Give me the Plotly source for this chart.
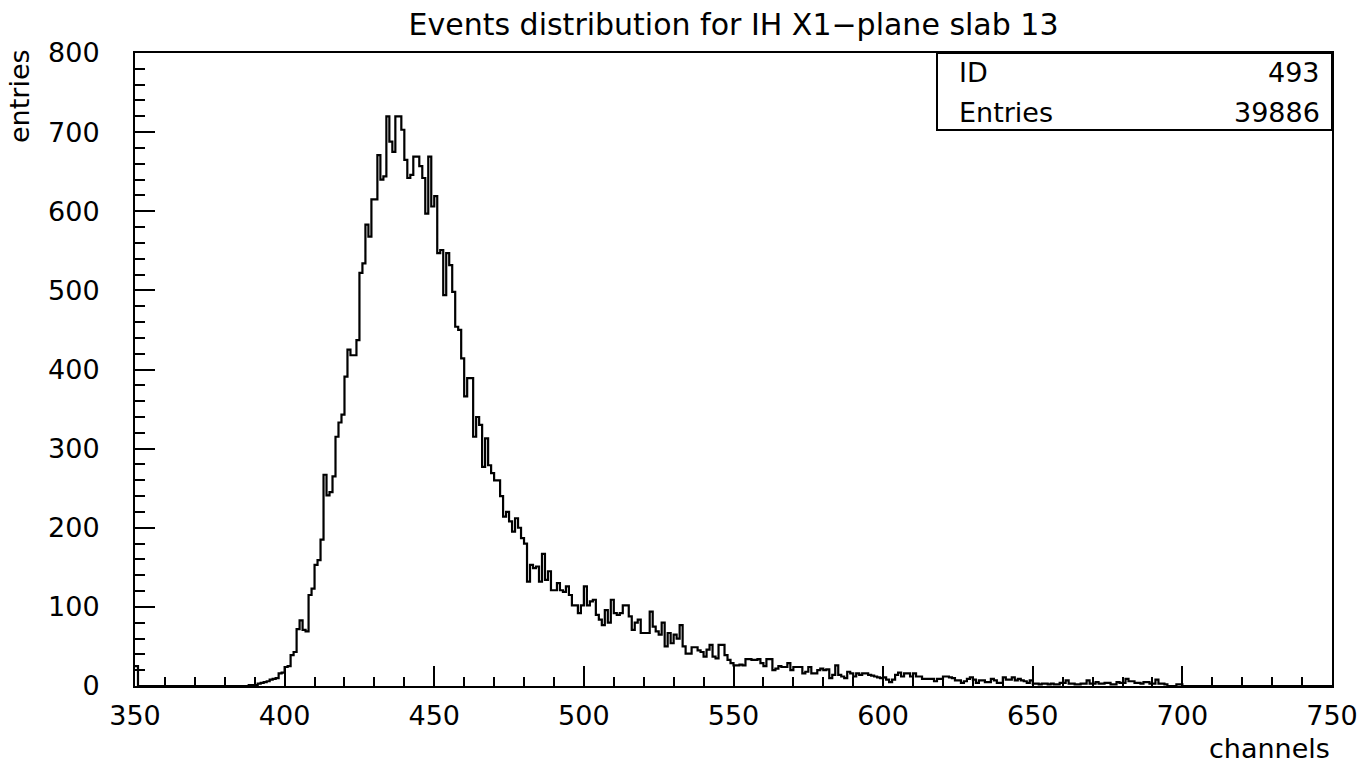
import numpy as np
import plotly.graph_objects as go

# ---- data ----
bin_low = 350          # first bin lower edge (channels)
bin_high = 750         # last bin upper edge
first_bin_count = 25   # bin 350 (pile-up at left edge)
start_channel = 388    # first non-empty bin of the main distribution
counts_main = [
    # 388-399
    1, 1, 1, 3, 4, 5, 6, 8, 9, 10, 16, 17,
    # 400-409
    24, 25, 39, 43, 72, 83, 71, 69, 115, 123,
    # 410-419
    153, 159, 185, 267, 241, 245, 265, 315, 333, 343,
    # 420-429
    391, 425, 418, 418, 437, 522, 534, 583, 568, 615,
    # 430-439
    615, 671, 640, 644, 720, 688, 675, 720, 720, 703,
    # 440-449
    665, 642, 646, 669, 669, 657, 642, 597, 669, 606,
    # 450-459
    619, 547, 551, 494, 547, 532, 498, 454, 450, 414,
    # 460-469
    366, 389, 389, 315, 340, 330, 277, 313, 279, 269,
    # 470-479
    260, 260, 240, 214, 220, 208, 195, 212, 200, 187,
    # 480-489
    180, 132, 153, 149, 151, 132, 167, 134, 145, 121,
    # 490-499
    121, 130, 121, 119, 126, 115, 102, 102, 92, 102,
    # 500-509
    126, 102, 107, 109, 90, 84, 77, 96, 80, 109,
    # 510-519
    92, 90, 92, 102, 102, 88, 71, 80, 84, 67,
    # 520-529
    67, 67, 94, 75, 69, 65, 80, 50, 67, 54,
    # 530-539
    65, 60, 77, 50, 41, 41, 49, 49, 45, 43,
    # 540-549
    37, 46, 52, 37, 35, 52, 52, 39, 33, 29,
    # 550-559
    26, 26, 27, 26, 34, 34, 33, 33, 34, 29,
    # 560-569
    25, 34, 34, 20, 22, 25, 24, 24, 29, 20,
    # 570-579
    24, 24, 24, 16, 18, 24, 16, 16, 20, 22,
    # 580-589
    20, 21, 10, 14, 26, 14, 12, 10, 18, 16,
    # 590-599
    12, 16, 14, 16, 16, 14, 13, 12, 11, 10,
    # 600-609
    11, 8, 5, 8, 14, 17, 12, 16, 16, 12,
    # 610-619
    16, 12, 12, 9, 9, 9, 9, 6, 9, 9,
    # 620-629
    12, 12, 11, 10, 7, 7, 4, 6, 9, 11,
    # 630-639
    8, 4, 7, 7, 5, 5, 9, 7, 4, 4,
    # 640-649
    11, 8, 8, 11, 7, 9, 7, 6, 4, 7,
    # 650-659
    3, 3, 2, 3, 3, 2, 3, 2, 2, 4,
    # 660-669
    4, 7, 3, 3, 2, 2, 3, 3, 7, 3,
    # 670-679
    3, 5, 3, 3, 4, 4, 2, 2, 5, 4,
    # 680-689
    4, 9, 6, 6, 4, 4, 3, 5, 5, 3,
    # 690-699
    3, 8, 3, 3, 2, 0, 0, 0, 2, 2,
]
x_tick_vals = [350, 400, 450, 500, 550, 600, 650, 700, 750]
y_tick_vals = [0, 100, 200, 300, 400, 500, 600, 700, 800]
title_text = "Events distribution for IH X1\u2212plane slab 13"
x_label = "channels"
y_label = "entries"
stats_id = "493"
stats_entries = "39886"

# ---- build histogram arrays ----
nbins = bin_high - bin_low
counts = np.zeros(nbins)
counts[0] = first_bin_count
i0 = start_channel - bin_low
counts[i0:i0 + len(counts_main)] = counts_main
edges = np.arange(bin_low, bin_high + 1)
y_step = np.append(counts, counts[-1])

FONT = "DejaVu Sans"
W, H = 1372, 769
L, R, T, B = 135, 40, 53, 83
pw, ph = W - L - R, H - T - B

def px_x(px):
    return (px - L) / pw

def px_y(py):
    return (H - B - py) / ph

fig = go.Figure()
fig.add_trace(go.Scatter(
    x=edges, y=y_step, mode="lines", line=dict(shape="hv", color="black", width=2.2),
    hoverinfo="skip", showlegend=False,
))

axis_common = dict(
    showline=True, linewidth=2, linecolor="black", mirror=True,
    ticks="inside", tickwidth=2, tickcolor="black", ticklen=20,
    showgrid=False, zeroline=False,
    tickfont=dict(family=FONT, size=27, color="black"),
)
fig.update_xaxes(range=[bin_low, bin_high], tickvals=x_tick_vals,
                 ticklabelstandoff=5,
                 minor=dict(dtick=10, tick0=350, ticks="inside", ticklen=9, tickwidth=2,
                            tickcolor="black", showgrid=False),
                 **axis_common)
fig.update_yaxes(range=[0, 800], tickvals=y_tick_vals,
                 ticklabelstandoff=28,
                 minor=dict(dtick=20, tick0=0, ticks="inside", ticklen=10, tickwidth=2,
                            tickcolor="black", showgrid=False),
                 **axis_common)

# stats box
fig.add_shape(type="rect", xref="paper", yref="paper",
              x0=px_x(937), x1=1, y0=px_y(130), y1=1,
              line=dict(color="black", width=2), fillcolor="white", layer="above")

ann_font = dict(family=FONT, size=27, color="black")
annotations = [
    dict(text="ID", x=px_x(957), y=px_y(72), xanchor="left", yanchor="middle"),
    dict(text=stats_id, x=px_x(1322), y=px_y(72), xanchor="right", yanchor="middle"),
    dict(text="Entries", x=px_x(957), y=px_y(112), xanchor="left", yanchor="middle"),
    dict(text=stats_entries, x=px_x(1322), y=px_y(112), xanchor="right", yanchor="middle"),
    dict(text=y_label, x=px_x(20), y=px_y(96), xanchor="center", yanchor="middle", textangle=-90),
    dict(text=x_label, x=1, y=px_y(748), xanchor="right", yanchor="middle"),
]
for a in annotations:
    fig.add_annotation(xref="paper", yref="paper", showarrow=False, font=ann_font, **a)

fig.update_layout(
    width=W, height=H,
    margin=dict(l=L, r=R, t=T, b=B),
    paper_bgcolor="white", plot_bgcolor="white",
    title=dict(text=title_text, x=0.5, xref="paper",
               y=1 - 24 / H, yref="container", xanchor="center", yanchor="middle",
               font=dict(family=FONT, size=30, color="black")),
    showlegend=False,
)

fig.write_html("out.html")
